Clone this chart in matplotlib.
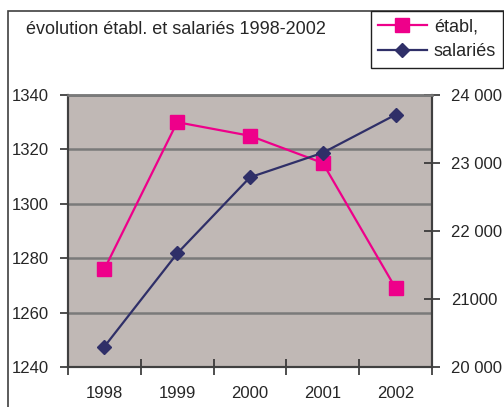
import matplotlib.pyplot as plt
from matplotlib.patches import Rectangle
from matplotlib.lines import Line2D

plt.rcParams['font.family'] = ['Liberation Sans', 'DejaVu Sans']

years = ['1998', '1999', '2000', '2001', '2002']
etabl = [1276, 1330, 1325, 1315, 1269]
salaries = [20300, 21670, 22790, 23150, 23710]

left_ticks = [1240, 1260, 1280, 1300, 1320, 1340]
right_ticks = [20000, 21000, 22000, 23000, 24000]
right_labels = ['20 000', '21000', '22 000', '23 000', '24 000']

pink = '#ee008a'
navy = '#2f2f68'
txt = '#262626'
fs = 13
tfs = 12

W, H = 504, 407
fig = plt.figure(figsize=(W / 100, H / 100), dpi=100)
fig.patch.set_facecolor('white')

# outer chart frame (goes off the right and bottom edges)
fig.patches.append(Rectangle((8 / W, -0.1), 1.2, 1.1 - 11 / H, transform=fig.transFigure,
                             fill=False, edgecolor='#404040', lw=1.2))

x0, x1, ytop, ybot = 68, 432, 95, 367
ax = fig.add_axes([x0 / W, 1 - ybot / H, (x1 - x0) / W, (ybot - ytop) / H])
ax.set_facecolor('#c0b8b5')
ax2 = ax.twinx()

xs = range(len(years))
ax.plot(xs, etabl, color=pink, lw=1.6, marker='s', markersize=9.5, zorder=3)
ax2.plot(xs, salaries, color=navy, lw=1.6, marker='D', markersize=7, zorder=3)

ax.set_xlim(-0.5, len(years) - 0.5)
ax.set_ylim(1240, 1340)
ax2.set_ylim(20000, 24000)

ax.set_yticks(left_ticks)
ax.set_yticklabels([str(v) for v in left_ticks])
ax2.set_yticks(right_ticks)
ax2.set_yticklabels(right_labels)

ax.set_xticks([i + 0.5 for i in range(-1, len(years))])
ax.set_xticklabels([])
ax.set_xticks(list(xs), minor=True)
ax.set_xticklabels(years, minor=True)
ax.tick_params(axis='x', which='major', direction='inout', length=12, width=1.2, color='#303030')
ax.tick_params(axis='x', which='minor', length=0, pad=14, labelsize=tfs, labelcolor=txt)
ax.tick_params(axis='y', direction='out', length=6, width=1.2, color='#303030', pad=8,
               labelsize=tfs, labelcolor=txt)
ax2.tick_params(axis='y', direction='inout', length=12, width=1.2, color='#303030', pad=8,
                labelsize=tfs, labelcolor=txt)

ax.yaxis.grid(True, color='#7a7a7a', lw=1.8)
ax.set_axisbelow(True)
for a in (ax, ax2):
    for side in ('left', 'right', 'bottom'):
        a.spines[side].set_color('#404040')
        a.spines[side].set_linewidth(1.5)
    a.spines['top'].set_color('#7a7a7a')
    a.spines['top'].set_linewidth(1.8)

fig.text(26 / W, 1 - 29 / H, 'évolution établ. et salariés 1998-2002', fontsize=fs,
         color=txt, va='center', ha='left')

handles = [Line2D([], [], color=pink, lw=1.6, marker='s', markersize=9.5),
           Line2D([], [], color=navy, lw=1.6, marker='D', markersize=7)]
leg = fig.legend(handles, ['établ,', 'salariés'], loc='upper left',
                 bbox_to_anchor=(370.7 / W, 1 - 11 / H), bbox_transform=fig.transFigure,
                 borderaxespad=0, fontsize=fs, fancybox=False, framealpha=1,
                 edgecolor='#202020', handlelength=2.7, handletextpad=0.4,
                 labelspacing=0.45, borderpad=0.4)
leg.get_frame().set_linewidth(1.0)
for t in leg.get_texts():
    t.set_color(txt)

fig.savefig('out.png', dpi=100)
